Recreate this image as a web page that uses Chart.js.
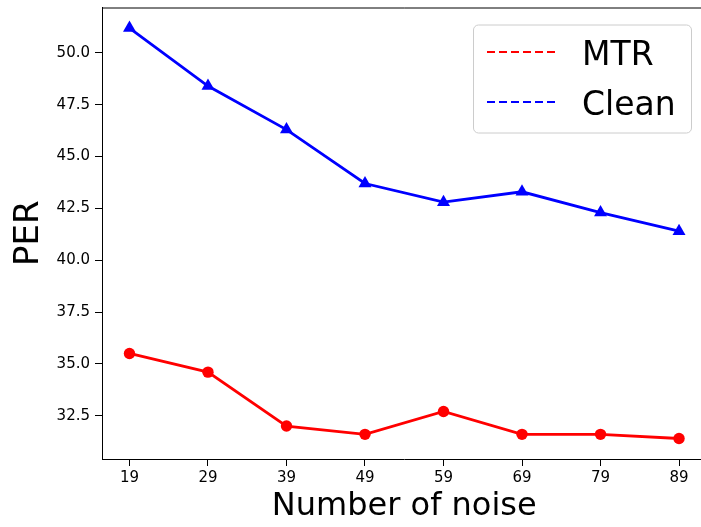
<!DOCTYPE html>
<html>
<head>
<meta charset="utf-8">
<script src="https://cdn.jsdelivr.net/npm/chart.js@4"></script>
<style>
    html, body { margin: 0; padding: 0; background: #fff; overflow: hidden; }
    #outer { position: relative; width: 701px; height: 527px; overflow: hidden; }
    #inner { position: absolute; left: 0; top: 0; width: 714px; height: 527px; }
</style>
</head>
<body>
<div id="outer"><div id="inner"><canvas id="perChart" width="714" height="527"></canvas></div></div>
<script>
// noise counts on the x axis
const noiseCounts = [19, 29, 39, 49, 59, 69, 79, 89];
const mtrPer = [35.5, 34.6, 32.0, 31.6, 32.7, 31.6, 31.6, 31.4];
const cleanPer = [51.2, 48.4, 46.3, 43.7, 42.8, 43.3, 42.3, 41.4];

const yTickValues = [32.5, 35.0, 37.5, 40.0, 42.5, 45.0, 47.5, 50.0];
const xTickValues = noiseCounts;

const FONT = 'DejaVu Sans';

function toPoints(ys) {
    return noiseCounts.map((x, i) => ({ x: x, y: ys[i] }));
}

// top/right spines plus the boxed legend in the upper right corner
const framePlugin = {
    id: 'frame',
    afterDraw(chart) {
        const { ctx, chartArea } = chart;
        ctx.save();
        ctx.strokeStyle = '#000';
        ctx.lineWidth = 1;
        ctx.beginPath();
        ctx.moveTo(chartArea.left, chartArea.top + 0.5);
        ctx.lineTo(chartArea.right, chartArea.top + 0.5);
        ctx.lineTo(chartArea.right, chartArea.bottom);
        ctx.stroke();

        // legend box
        const bx = 473.5, by = 25, bw = 218, bh = 108, r = 5;
        ctx.beginPath();
        ctx.moveTo(bx + r, by);
        ctx.arcTo(bx + bw, by, bx + bw, by + bh, r);
        ctx.arcTo(bx + bw, by + bh, bx, by + bh, r);
        ctx.arcTo(bx, by + bh, bx, by, r);
        ctx.arcTo(bx, by, bx + bw, by, r);
        ctx.closePath();
        ctx.fillStyle = 'rgba(255,255,255,0.8)';
        ctx.fill();
        ctx.strokeStyle = '#cccccc';
        ctx.stroke();

        chart.data.datasets.forEach((ds, i) => {
            const baseY = 65 + i * 50;
            const lineY = baseY - 13;
            ctx.strokeStyle = ds.borderColor;
            ctx.lineWidth = 2;
            ctx.setLineDash([8, 4]);
            ctx.beginPath();
            ctx.moveTo(487, lineY);
            ctx.lineTo(555, lineY);
            ctx.stroke();
            ctx.setLineDash([]);
            ctx.fillStyle = '#000';
            ctx.font = '33px "' + FONT + '"';
            ctx.textBaseline = 'alphabetic';
            ctx.textAlign = 'left';
            ctx.fillText(ds.label, 582, baseY);
        });
        ctx.restore();
    }
};

const ctx = document.getElementById('perChart').getContext('2d');

new Chart(ctx, {
    type: 'line',
    data: {
        datasets: [
            {
                label: 'MTR',
                data: toPoints(mtrPer),
                borderColor: '#ff0000',
                backgroundColor: '#ff0000',
                borderWidth: 2.8,
                pointStyle: 'circle',
                pointRadius: 5.7,
                pointBorderWidth: 0,
                tension: 0
            },
            {
                label: 'Clean',
                data: toPoints(cleanPer),
                borderColor: '#0000ff',
                backgroundColor: '#0000ff',
                borderWidth: 2.8,
                pointStyle: 'triangle',
                pointRadius: 7.5,
                pointBorderWidth: 0,
                tension: 0
            }
        ]
    },
    options: {
        responsive: false,
        animation: false,
        layout: {
            padding: { top: 7, right: 1, left: 0, bottom: 0 }
        },
        plugins: {
            legend: { display: false },
            tooltip: { enabled: false }
        },
        scales: {
            x: {
                type: 'linear',
                min: 15.5,
                max: 92.5,
                afterBuildTicks: scale => {
                    scale.ticks = xTickValues.map(v => ({ value: v }));
                },
                afterFit: scale => {
                    scale.height = 68;
                    scale.paddingLeft = 0;
                    scale.paddingRight = 0;
                },
                grid: {
                    drawOnChartArea: false,
                    drawTicks: true,
                    tickLength: 7,
                    tickColor: '#000',
                    tickWidth: 1
                },
                border: { display: true, color: '#000', width: 1 },
                ticks: {
                    color: '#000',
                    padding: 3,
                    maxRotation: 0,
                    autoSkip: false,
                    font: { family: FONT, size: 15 }
                },
                title: {
                    display: true,
                    text: 'Number of noise',
                    color: '#000',
                    padding: { top: 0, bottom: 4 },
                    font: { family: FONT, size: 32, lineHeight: 1 }
                }
            },
            y: {
                min: 30.41,
                max: 52.19,
                afterBuildTicks: scale => {
                    scale.ticks = yTickValues.map(v => ({ value: v }));
                },
                afterFit: scale => {
                    scale.width = 102;
                    scale.paddingTop = 0;
                    scale.paddingBottom = 0;
                },
                grid: {
                    drawOnChartArea: false,
                    drawTicks: true,
                    tickLength: 7,
                    tickColor: '#000',
                    tickWidth: 1
                },
                border: { display: true, color: '#000', width: 1 },
                ticks: {
                    color: '#000',
                    padding: 5,
                    autoSkip: false,
                    font: { family: FONT, size: 15 },
                    callback: value => value.toFixed(1)
                },
                title: {
                    display: true,
                    text: 'PER',
                    color: '#000',
                    padding: { top: 12, bottom: 0 },
                    font: { family: FONT, size: 34, lineHeight: 1 }
                }
            }
        }
    },
    plugins: [framePlugin]
});
</script>
</body>
</html>
